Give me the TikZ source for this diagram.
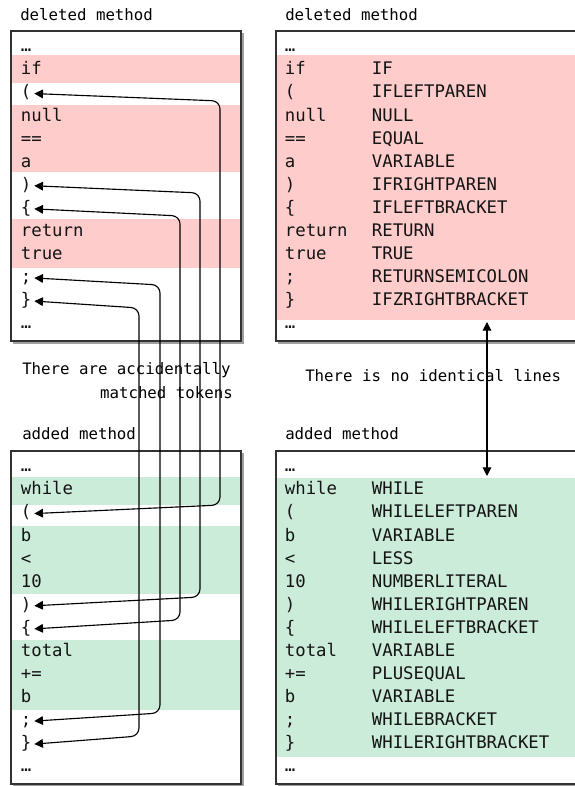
\documentclass[tikz,border=0pt]{standalone}
\usepackage{fontspec}
\newfontfamily\codefont{DejaVu Sans Mono}
\usetikzlibrary{arrows.meta}
\definecolor{delpink}{RGB}{255,204,204}
\definecolor{addgreen}{RGB}{204,236,218}
\definecolor{framegray}{RGB}{50,50,50}
\definecolor{shadowgray}{RGB}{160,160,160}
\definecolor{codeink}{RGB}{20,20,20}
\tikzset{pointer/.tip={Triangle[length=6.5pt,width=6.5pt]}}
\begin{document}
\begin{tikzpicture}[x=0.75pt,y=-0.75pt,
  tok/.style={anchor=west, inner xsep=2pt, inner ysep=0pt, yshift=-1.1pt,
    font=\codefont\fontsize{13}{15}\selectfont, text=codeink,
    text height=9pt, text depth=2.5pt},
  caption/.style={anchor=west, inner sep=0pt,
    font=\codefont\fontsize{11.8}{14}\selectfont, text=black},
  shade/.style={fill=shadowgray},
  frame/.style={draw=framegray, line width=0.8pt},
  link/.style={pointer-pointer, line width=0.85pt, rounded corners=6pt},
]
\useasboundingbox (0,0) rectangle (575,786);
\clip (0,0) rectangle (575,786);
\fill[white] (0,0) rectangle (575,786);

% ---------- panel backgrounds ----------
\fill[shade] (13,33) rectangle (243.5,343.5);
\fill[white] (11,31) rectangle (241,341);
\fill[delpink] (11,55) rectangle (241,83);
\fill[delpink] (11,105) rectangle (241,172);
\fill[delpink] (11,219) rectangle (241,268);
\draw[frame] (11,31) rectangle (241,341);

\fill[shade] (278,33) rectangle (600,343.5);
\fill[white] (276,31) rectangle (600,341);
\fill[delpink] (276,55) rectangle (600,320);
\draw[frame] (276,31) rectangle (600,341);

\fill[shade] (13,453) rectangle (243.5,786.5);
\fill[white] (11,451) rectangle (241,784);
\fill[addgreen] (11,477) rectangle (241,505);
\fill[addgreen] (11,526) rectangle (241,594);
\fill[addgreen] (11,640) rectangle (241,710);
\draw[frame] (11,451) rectangle (241,784);

\fill[shade] (278,453) rectangle (600,786.5);
\fill[white] (276,451) rectangle (600,784);
\fill[addgreen] (276,478) rectangle (600,757);
\draw[frame] (276,451) rectangle (600,784);

% ---------- captions ----------
\node[caption] (capDelL) at (20,15) {deleted method};
\node[caption] (capDelR) at (285,15) {deleted method};
\node[caption] (capAccA) at (22,370) {There are accidentally};
\node[caption, anchor=east] (capAccB) at (233,393) {matched tokens};
\node[caption] (capNone) at (305,376) {There is no identical lines};
\node[caption] (capAddL) at (22,434) {added method};
\node[caption] (capAddR) at (285,434) {added method};

% ---------- deleted method, token stream ----------
\node[tok] (tl0)  at (18,46)    {…};
\node[tok] (tl1)  at (18,69.1)  {if};
\node[tok] (tl2)  at (18,92.1)  {(};
\node[tok] (tl3)  at (18,115.2) {null};
\node[tok] (tl4)  at (18,138.2) {==};
\node[tok] (tl5)  at (18,161.3) {a};
\node[tok] (tl6)  at (18,184.3) {)};
\node[tok] (tl7)  at (18,207.4) {\{};
\node[tok] (tl8)  at (18,230.4) {return};
\node[tok] (tl9)  at (18,253.5) {true};
\node[tok] (tl10) at (18,276.5) {;};
\node[tok] (tl11) at (18,299.6) {\}};
\node[tok] (tl12) at (18,322.6) {…};

% ---------- added method, token stream ----------
\node[tok] (bl0)  at (18,466)   {…};
\node[tok] (bl1)  at (18,489.1) {while};
\node[tok] (bl2)  at (18,512.1) {(};
\node[tok] (bl3)  at (18,535.2) {b};
\node[tok] (bl4)  at (18,558.2) {<};
\node[tok] (bl5)  at (18,581.3) {10};
\node[tok] (bl6)  at (18,604.3) {)};
\node[tok] (bl7)  at (18,627.4) {\{};
\node[tok] (bl8)  at (18,650.4) {total};
\node[tok] (bl9)  at (18,673.5) {+=};
\node[tok] (bl10) at (18,696.5) {b};
\node[tok] (bl11) at (18,719.6) {;};
\node[tok] (bl12) at (18,742.6) {\}};
\node[tok] (bl13) at (18,765.7) {…};

% ---------- deleted method, line/token table ----------
\node[tok] (tr0)   at (282,46)    {…};
\node[tok] (tr1)   at (282,69.1)  {if};
\node[tok] (tr1b)  at (369,69.1)  {IF};
\node[tok] (tr2)   at (282,92.1)  {(};
\node[tok] (tr2b)  at (369,92.1)  {IFLEFTPAREN};
\node[tok] (tr3)   at (282,115.2) {null};
\node[tok] (tr3b)  at (369,115.2) {NULL};
\node[tok] (tr4)   at (282,138.2) {==};
\node[tok] (tr4b)  at (369,138.2) {EQUAL};
\node[tok] (tr5)   at (282,161.3) {a};
\node[tok] (tr5b)  at (369,161.3) {VARIABLE};
\node[tok] (tr6)   at (282,184.3) {)};
\node[tok] (tr6b)  at (369,184.3) {IFRIGHTPAREN};
\node[tok] (tr7)   at (282,207.4) {\{};
\node[tok] (tr7b)  at (369,207.4) {IFLEFTBRACKET};
\node[tok] (tr8)   at (282,230.4) {return};
\node[tok] (tr8b)  at (369,230.4) {RETURN};
\node[tok] (tr9)   at (282,253.5) {true};
\node[tok] (tr9b)  at (369,253.5) {TRUE};
\node[tok] (tr10)  at (282,276.5) {;};
\node[tok] (tr10b) at (369,276.5) {RETURNSEMICOLON};
\node[tok] (tr11)  at (282,299.6) {\}};
\node[tok] (tr11b) at (369,299.6) {IFZRIGHTBRACKET};
\node[tok] (tr12)  at (282,322.6) {…};

% ---------- added method, line/token table ----------
\node[tok] (br0)   at (282,466)   {…};
\node[tok] (br1)   at (282,489.1) {while};
\node[tok] (br1b)  at (369,489.1) {WHILE};
\node[tok] (br2)   at (282,512.1) {(};
\node[tok] (br2b)  at (369,512.1) {WHILELEFTPAREN};
\node[tok] (br3)   at (282,535.2) {b};
\node[tok] (br3b)  at (369,535.2) {VARIABLE};
\node[tok] (br4)   at (282,558.2) {<};
\node[tok] (br4b)  at (369,558.2) {LESS};
\node[tok] (br5)   at (282,581.3) {10};
\node[tok] (br5b)  at (369,581.3) {NUMBERLITERAL};
\node[tok] (br6)   at (282,604.3) {)};
\node[tok] (br6b)  at (369,604.3) {WHILERIGHTPAREN};
\node[tok] (br7)   at (282,627.4) {\{};
\node[tok] (br7b)  at (369,627.4) {WHILELEFTBRACKET};
\node[tok] (br8)   at (282,650.4) {total};
\node[tok] (br8b)  at (369,650.4) {VARIABLE};
\node[tok] (br9)   at (282,673.5) {+=};
\node[tok] (br9b)  at (369,673.5) {PLUSEQUAL};
\node[tok] (br10)  at (282,696.5) {b};
\node[tok] (br10b) at (369,696.5) {VARIABLE};
\node[tok] (br11)  at (282,719.6) {;};
\node[tok] (br11b) at (369,719.6) {WHILEBRACKET};
\node[tok] (br12)  at (282,742.6) {\}};
\node[tok] (br12b) at (369,742.6) {WHILERIGHTBRACKET};
\node[tok] (br13)  at (282,765.7) {…};

% ---------- accidental token matches ----------
\draw[link] (tl2.east)  -- (220,101) -- (220,505) -- (bl2.east);
\draw[link] (tl6.east)  -- (200,193) -- (200,597) -- (bl6.east);
\draw[link] (tl7.east)  -- (180,216) -- (180,620) -- (bl7.east);
\draw[link] (tl10.east) -- (160,285) -- (160,713) -- (bl11.east);
\draw[link] (tl11.east) -- (139,308) -- (139,736) -- (bl12.east);

% ---------- no line matched ----------
\coordinate (gapTop) at (487,322);
\coordinate (gapBot) at (487,476);
\draw[pointer-pointer, line width=0.85pt] (gapTop) -- (gapBot);
\end{tikzpicture}
\end{document}
